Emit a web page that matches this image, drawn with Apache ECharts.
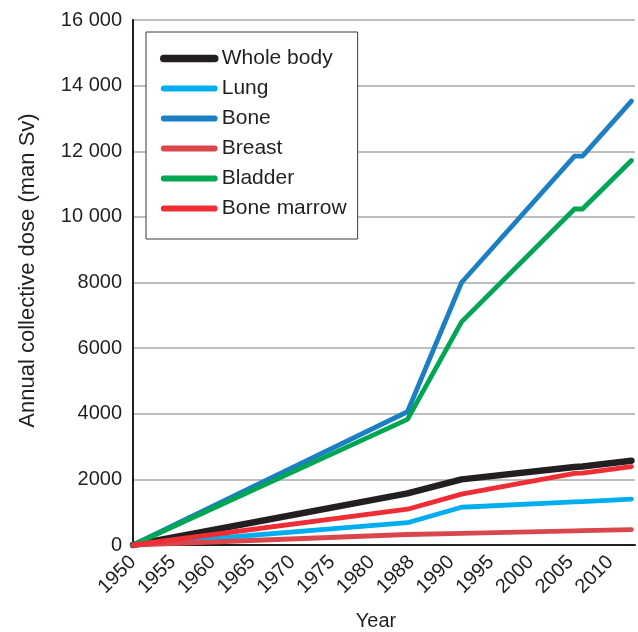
<!DOCTYPE html>
<html>
<head>
<meta charset="utf-8">
<style>
  html, body { margin: 0; padding: 0; background: #fff; }
  #chart { width: 638px; height: 632px; }
</style>
<script src="https://cdn.jsdelivr.net/npm/echarts@6/dist/echarts.min.js"></script>
</head>
<body>
<div id="chart"></div>
<script>
// Tick labels of the (evenly spaced) x axis
const tickLabels = ['1950','1955','1960','1965','1970','1975','1980','1988','1990','1995','2000','2005','2010'];
// Positions of the data points along the x axis, in tick-slot units (0 = 1950 tick)
const xSlots = [0, 6.9, 8.26, 11.1, 11.3, 12.53];

const seriesNames = ['Whole body', 'Lung', 'Bone', 'Breast', 'Bladder', 'Bone marrow'];
const wholeBody  = [0, 1575, 2000, 2380, 2390, 2570];
const lung       = [0, 680, 1150, 1315, 1325, 1400];
const bone       = [0, 4060, 8000, 11850, 11850, 13530];
const breast     = [0, 320, 357, 432, 437, 470];
const bladder    = [0, 3830, 6800, 10240, 10240, 11720];
const boneMarrow = [0, 1090, 1550, 2185, 2190, 2390];

const values = [wholeBody, lung, bone, breast, bladder, boneMarrow];
const colors = ['#231f20', '#00aeef', '#1b80c3', '#d9474c', '#00a651', '#ee2e34'];
const widths = [6.5, 4.8, 4.8, 4.8, 4.8, 4.8];

const FONT = 'Liberation Sans, Arial, Helvetica, sans-serif';
const TXT = '#231f20';

const chart = echarts.init(document.getElementById('chart'), null, { renderer: 'canvas' });

function pairs(vals) { return vals.map((v, i) => [xSlots[i], v]); }

const option = {
  animation: false,
  backgroundColor: '#fff',
  textStyle: { fontFamily: FONT },
  grid: { left: 133, right: 3, top: 20, bottom: 87, containLabel: false, outerBoundsMode: 'none' },
  legend: {
    orient: 'vertical',
    left: 146,
    top: 32,
    padding: [16, 11, 20, 14],
    itemGap: 9,
    itemWidth: 51,
    itemHeight: 8,
    backgroundColor: '#fff',
    borderColor: '#3a3a3a',
    borderWidth: 1,
    borderRadius: 0,
    itemStyle: { opacity: 0 },
    textStyle: { fontSize: 21, color: TXT, fontFamily: FONT, padding: [0, 0, 0, 2] },
    data: seriesNames.map((n, i) => ({
      name: n,
      itemStyle: { opacity: 0 },
      lineStyle: { width: widths[i] + 1, cap: 'round', color: colors[i], opacity: 1 }
    }))
  },
  xAxis: {
    type: 'value',
    min: 0,
    max: 12.62,
    interval: 1,
    name: 'Year',
    nameLocation: 'middle',
    nameGap: 66,
    nameTextStyle: { fontSize: 20, color: TXT, fontFamily: FONT, padding: [0, 16, 0, 0] },
    axisLine: { show: true, onZero: false, lineStyle: { color: TXT, width: 2 } },
    axisTick: { show: false },
    splitLine: { show: false },
    axisLabel: {
      rotate: 45,
      margin: 14,
      fontSize: 20,
      color: TXT,
      fontFamily: FONT,
      showMaxLabel: false,
      formatter: function (v) {
        return (Number.isInteger(v) && tickLabels[v] !== undefined) ? tickLabels[v] : '';
      }
    }
  },
  yAxis: {
    type: 'value',
    min: 0,
    max: 16000,
    interval: 2000,
    name: 'Annual collective dose (man Sv)',
    nameLocation: 'middle',
    nameGap: 94,
    nameTextStyle: { fontSize: 22, color: TXT, fontFamily: FONT, padding: [0, 0, 0, 24] },
    axisLine: { show: true, lineStyle: { color: TXT, width: 2 } },
    axisTick: { show: false },
    splitLine: { show: true, lineStyle: { color: '#a7a9ac', width: 1.5 } },
    axisLabel: {
      margin: 11,
      fontSize: 20,
      color: TXT,
      fontFamily: FONT,
      formatter: function (v) {
        return v >= 10000 ? String(v).replace(/(\d+)(\d{3})$/, '$1 $2') : String(v);
      }
    }
  },
  series: seriesNames.map((n, i) => ({
    name: n,
    type: 'line',
    data: pairs(values[i]),
    symbol: 'none',
    showSymbol: false,
    clip: false,
    color: colors[i],
    lineStyle: { color: colors[i], width: widths[i], cap: 'round', join: 'round' },
    z: 2 + i
  }))
};

chart.setOption(option);
</script>
</body>
</html>
